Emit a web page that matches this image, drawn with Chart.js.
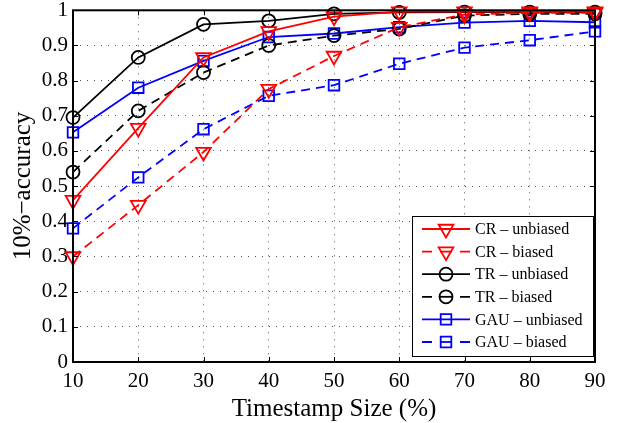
<!DOCTYPE html>
<html>
<head>
<meta charset="utf-8">
<script src="https://cdn.jsdelivr.net/npm/chart.js@4.4.1/dist/chart.umd.min.js"></script>
<style>
  html, body { margin: 0; padding: 0; background: #fff; }
  #wrap { width: 618px; height: 423px; }
</style>
</head>
<body>
<div id="wrap"><canvas id="chart" width="618" height="423"></canvas></div>
<script>
// timestamp sizes (%)
const sizes = [10, 20, 30, 40, 50, 60, 70, 80, 90];
const yTicks = [0, 0.1, 0.2, 0.3, 0.4, 0.5, 0.6, 0.7, 0.8, 0.9, 1];

const crUnbiased = [0.46, 0.665, 0.866, 0.94, 0.982, 0.996, 0.996, 0.996, 0.996];
const crBiased = [0.30, 0.446, 0.597, 0.776, 0.870, 0.952, 0.988, 0.993, 0.993];
const trUnbiased = [0.695, 0.866, 0.96, 0.97, 0.99, 0.994, 0.995, 0.995, 0.995];
const trBiased = [0.54, 0.714, 0.823, 0.90, 0.928, 0.947, 0.985, 0.99, 0.99];
const gauUnbiased = [0.653, 0.78, 0.856, 0.924, 0.934, 0.952, 0.965, 0.97, 0.966];
const gauBiased = [0.38, 0.525, 0.662, 0.757, 0.787, 0.848, 0.894, 0.915, 0.94];

const serif = "'Liberation Serif', 'DejaVu Serif', serif";
const DASH = [9, 6];
const LW = 1.8;

function series(label, data, color, marker, dashed) {
  let radius = 6.5;
  let rotation = 0;
  if (marker === "triangle") { radius = 8.5; rotation = 180; }
  if (marker === "rect") radius = 7.5;
  return {
    label,
    data: data.map((v, i) => ({ x: sizes[i], y: v })),
    borderColor: color,
    borderWidth: LW,
    borderDash: dashed ? DASH : [],
    pointStyle: marker,
    pointRadius: radius,
    pointHoverRadius: radius,
    pointRotation: rotation,
    pointBorderColor: color,
    pointBackgroundColor: "rgba(0,0,0,0)",
    pointBorderWidth: LW,
    fill: false,
    tension: 0,
    clip: false,
    dashed,
  };
}

const datasets = [
  series("CR \u2013 unbiased", crUnbiased, "#ff0000", "triangle", false),
  series("CR \u2013 biased", crBiased, "#ff0000", "triangle", true),
  series("TR \u2013 unbiased", trUnbiased, "#000000", "circle", false),
  series("TR \u2013 biased", trBiased, "#000000", "circle", true),
  series("GAU \u2013 unbiased", gauUnbiased, "#0000ff", "rect", false),
  series("GAU \u2013 biased", gauBiased, "#0000ff", "rect", true),
];

// frame, inward ticks, axis titles and the boxed legend
const decorations = {
  id: "decorations",
  afterDraw(chart) {
    const ctx = chart.ctx;
    const a = chart.chartArea;
    const xs = chart.scales.x;
    const ys = chart.scales.y;
    ctx.save();
    ctx.strokeStyle = "#000";
    ctx.lineWidth = 1;
    ctx.setLineDash([]);
    ctx.beginPath();
    sizes.forEach((s) => {
      const px = Math.round(xs.getPixelForValue(s)) + 0.5;
      ctx.moveTo(px, a.bottom); ctx.lineTo(px, a.bottom - 5);
      ctx.moveTo(px, a.top); ctx.lineTo(px, a.top + 5);
    });
    yTicks.forEach((t) => {
      const py = Math.round(ys.getPixelForValue(t)) + 0.5;
      ctx.moveTo(a.left, py); ctx.lineTo(a.left + 5, py);
      ctx.moveTo(a.right, py); ctx.lineTo(a.right - 5, py);
    });
    ctx.stroke();
    ctx.lineWidth = 2;
    ctx.strokeRect(a.left, a.top, a.right - a.left, a.bottom - a.top);

    // axis titles
    ctx.fillStyle = "#000";
    ctx.font = "25px " + serif;
    ctx.textAlign = "center";
    ctx.textBaseline = "middle";
    ctx.fillText("Timestamp Size (%)", (a.left + a.right) / 2, 409);
    ctx.translate(23, 186);
    ctx.rotate(-Math.PI / 2);
    ctx.fillText("10%\u2212accuracy", 0, 0);
    ctx.restore();

    // legend
    ctx.save();
    const bx = 412, by = 216, bw = 181, bh = 140;
    ctx.fillStyle = "#fff";
    ctx.fillRect(bx, by, bw, bh);
    ctx.strokeStyle = "#000";
    ctx.lineWidth = 1;
    ctx.strokeRect(bx + 0.5, by + 0.5, bw, bh);
    ctx.font = "16px " + serif;
    ctx.textAlign = "left";
    ctx.textBaseline = "middle";
    chart.data.datasets.forEach((ds, i) => {
      const y = 229 + i * 22.6;
      ctx.strokeStyle = ds.borderColor;
      ctx.lineWidth = LW;
      ctx.beginPath();
      if (ds.dashed) {
        ctx.moveTo(422, y); ctx.lineTo(432, y);
        ctx.moveTo(460, y); ctx.lineTo(470, y);
      } else {
        ctx.moveTo(422, y); ctx.lineTo(470, y);
      }
      ctx.stroke();
      ctx.fillStyle = "rgba(0,0,0,0)";
      Chart.helpers.drawPoint(ctx, {
        pointStyle: ds.pointStyle,
        rotation: ds.pointRotation,
        radius: ds.pointRadius,
        borderWidth: ds.pointBorderWidth,
      }, 446, y);
      if (ds.dashed) {
        // marker crossbar as in the reference legend
        ctx.beginPath();
        ctx.moveTo(440, y); ctx.lineTo(452, y);
        ctx.stroke();
      }
      ctx.fillStyle = "#000";
      ctx.fillText(ds.label, 475, y + 1);
    });
    ctx.restore();
  },
};

new Chart(document.getElementById("chart"), {
  type: "line",
  data: { datasets },
  options: {
    responsive: false,
    animation: false,
    devicePixelRatio: 1,
    layout: { padding: { top: 10, right: 23, left: 0, bottom: 0 } },
    plugins: { legend: { display: false }, tooltip: { enabled: false } },
    scales: {
      x: {
        type: "linear",
        min: 10,
        max: 90,
        afterBuildTicks(scale) { scale.ticks = sizes.map((v) => ({ value: v })); },
        afterFit(scale) {
          scale.height = 61;
          scale.paddingLeft = 0;
          scale.paddingRight = 0;
        },
        ticks: { color: "#000", font: { family: serif, size: 21 }, padding: 7 },
        grid: { color: "#555", lineWidth: 1, tickLength: 0, drawTicks: false },
        border: { display: false, dash: [1, 6] },
      },
      y: {
        min: 0,
        max: 1,
        afterBuildTicks(scale) { scale.ticks = yTicks.map((v) => ({ value: v })); },
        afterFit(scale) {
          scale.width = 73;
          scale.paddingTop = 0;
          scale.paddingBottom = 0;
        },
        ticks: {
          color: "#000",
          font: { family: serif, size: 21 },
          padding: 5,
          callback: (v) => String(Math.round(v * 10) / 10),
        },
        grid: { color: "#555", lineWidth: 1, tickLength: 0, drawTicks: false },
        border: { display: false, dash: [1, 6] },
      },
    },
  },
  plugins: [decorations],
});
</script>
</body>
</html>
